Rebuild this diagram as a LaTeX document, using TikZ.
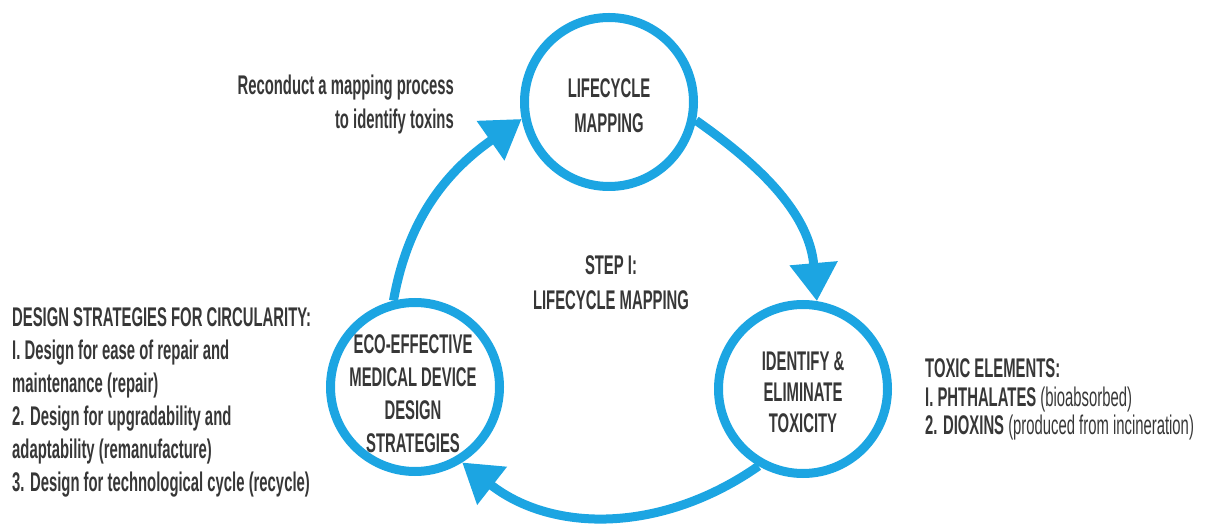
\documentclass[tikz,border=0pt]{standalone}
\usepackage{fontspec}
\setmainfont{Liberation Sans}[FakeStretch=0.55]
\usetikzlibrary{arrows.meta}
\definecolor{cblue}{RGB}{28,165,226}
\definecolor{tgray}{RGB}{55,55,55}
\begin{document}
\begin{tikzpicture}[x=1pt,y=1pt,
  ring/.style={circle, draw=cblue, line width=9pt, minimum size=169pt, inner sep=0pt},
  flow/.style={draw=cblue, line width=9pt, -{Triangle[length=38pt,width=46pt]}},
  lbl/.style={text=tgray, font=\fontsize{27}{#1}\selectfont\bfseries, inner sep=0pt, align=center},
  lbl/.default=33,
  row/.style={text=tgray, font=\fontsize{27}{33}\selectfont\bfseries, inner sep=0pt, anchor=base west},
]
\useasboundingbox (0,0) rectangle (1216,525);
% circles
\node[ring] (T) at (609,423) {};
\node[ring] (R) at (803,136) {};
\node[ring] (L) at (415,138) {};
% circle texts
\node[lbl=35] (tT) at (609,419.5) {LIFECYCLE\\MAPPING};
\node[lbl=31] (tR) at (803,133) {IDENTIFY \&\\ELIMINATE\\TOXICITY};
\node[lbl=33] (tL) at (413,131) {ECO-EFFECTIVE\\MEDICAL DEVICE\\DESIGN\\STRATEGIES};
\node[lbl=35] (step) at (611,242.5) {STEP I:\\LIFECYCLE MAPPING};
% arrows
\draw[flow] (L.104) to[out=80,in=215] (T.191);
\draw[flow] (T.-12) to[out=-35,in=95] (R.81);
\draw[flow] (R.240) to[out=215,in=322] (L.302);
% side texts
\node[lbl=34, align=right, anchor=east] (recon) at (454,420) {Reconduct a mapping process\\to identify toxins};
\node[row] (d0) at (12,198) {DESIGN STRATEGIES FOR CIRCULARITY:};
\node[row] (d1) at (12,165) {I. Design for ease of repair and};
\node[row] (d2) at (12,132) {maintenance (repair)};
\node[row] (d3) at (12,99) {2. Design for upgradability and};
\node[row] (d4) at (12,66) {adaptability (remanufacture)};
\node[row] (d5) at (12,33) {3. Design for technological cycle (recycle)};
\node[row] (x0) at (925,147) {TOXIC ELEMENTS:};
\node[row] (x1) at (925,118) {I. PHTHALATES \mdseries(bioabsorbed)};
\node[row] (x2) at (925,90) {2. DIOXINS \mdseries(produced from incineration)};
\end{tikzpicture}
\end{document}
